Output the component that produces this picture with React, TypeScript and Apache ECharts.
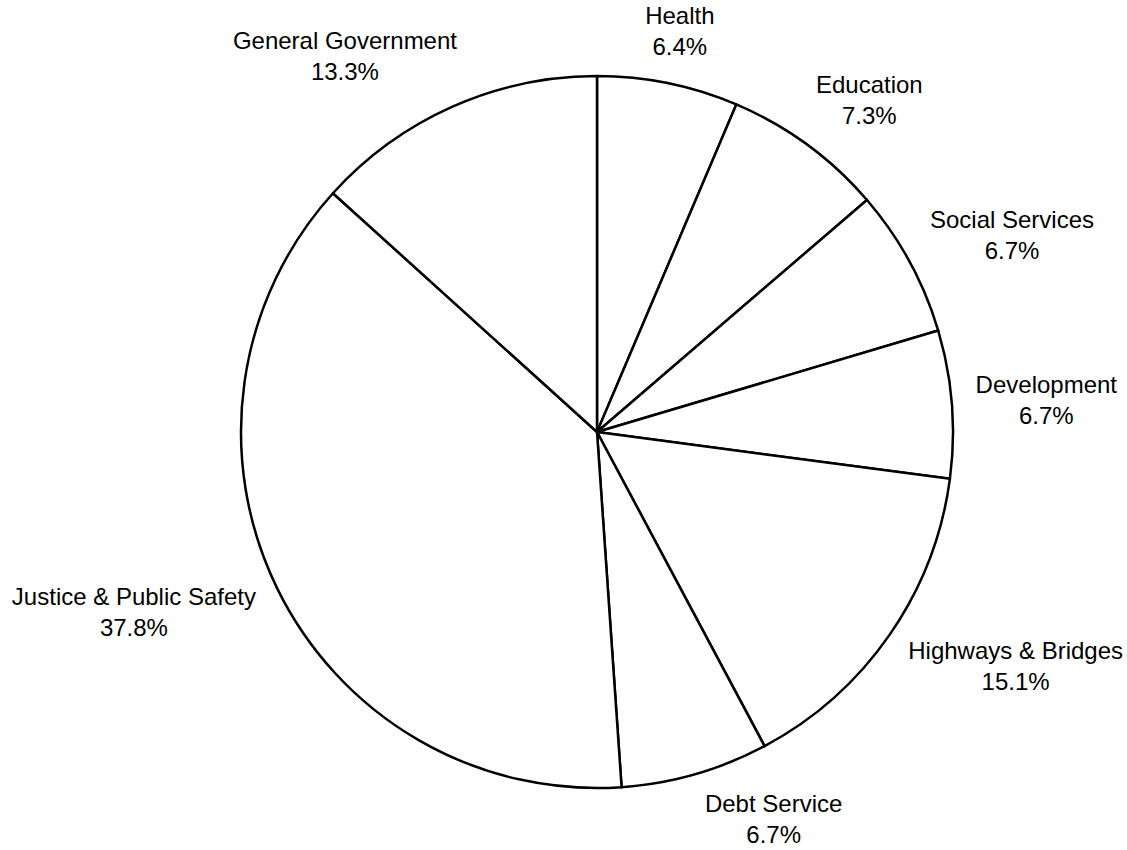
import React, { useEffect, useRef } from "react";
import * as echarts from "echarts";

const categories = [
  "Health",
  "Education",
  "Social Services",
  "Development",
  "Highways & Bridges",
  "Debt Service",
  "Justice & Public Safety",
  "General Government",
];
const shares = [6.4, 7.3, 6.7, 6.7, 15.1, 6.7, 37.8, 13.3];

const W = 1127;
const H = 850;
const CX = 597;
const CY = 432;
const R = 356;
const GAP = 24;
const CLEAR = 16;

const clamp = (v: number, lo: number, hi: number) => Math.max(lo, Math.min(hi, v));

function labelCenter(i: number, w: number, h: number) {
  const total = shares.reduce((a, b) => a + b, 0);
  let before = 0;
  for (let k = 0; k < i; k++) before += shares[k];
  const mid = ((before + shares[i] / 2) / total) * 2 * Math.PI;
  const s = Math.sin(mid);
  const c = Math.cos(mid);
  let x = CX + (R + GAP) * s + (w / 2) * s;
  let y = CY - (R + GAP) * c - (h / 2) * c;
  y = clamp(y, h / 2, H - h / 2);
  const nx = clamp(CX, x - w / 2, x + w / 2);
  const ny = clamp(CY, y - h / 2, y + h / 2);
  const dx = nx - CX;
  const dy = ny - CY;
  const need = R + CLEAR;
  if (dx * dx + dy * dy < need * need && Math.abs(dy) < need) {
    const req = Math.sqrt(need * need - dy * dy);
    x = s >= 0 ? CX + req + w / 2 : CX - req - w / 2;
  }
  x = clamp(x, w / 2 + 4, W - w / 2 - 4);
  return { x, y };
}

export default function App() {
  const ref = useRef<HTMLDivElement>(null);
  useEffect(() => {
    if (!ref.current) return;
    const chart = echarts.init(ref.current, null, { renderer: "svg" });
    chart.setOption({
      animation: false,
      backgroundColor: "#ffffff",
      series: [
        {
          type: "pie",
          center: [CX, CY],
          radius: [0, R],
          startAngle: 90,
          clockwise: true,
          avoidLabelOverlap: false,
          silent: true,
          emphasis: { disabled: true },
          itemStyle: { color: "#ffffff", borderColor: "#000000", borderWidth: 2.5 },
          label: {
            show: true,
            position: "outside",
            color: "#000000",
            fontFamily: "'Liberation Sans', Arial, sans-serif",
            fontSize: 24,
            lineHeight: 31,
            formatter: (p: any) => `${p.name}\n${Number(p.value).toFixed(1)}%`,
          },
          labelLine: { show: false },
          labelLayout: (params: any) => {
            const { width, height } = params.labelRect;
            const pos = labelCenter(params.dataIndex, width, height);
            return { x: pos.x, y: pos.y, align: "center", verticalAlign: "middle" };
          },
          data: categories.map((name, i) => ({ name, value: shares[i] })),
        },
      ],
    });
    return () => chart.dispose();
  }, []);
  return (
    <div
      ref={ref}
      style={{ position: "fixed", left: 0, top: 0, width: W, height: H, background: "#fff" }}
    />
  );
}
